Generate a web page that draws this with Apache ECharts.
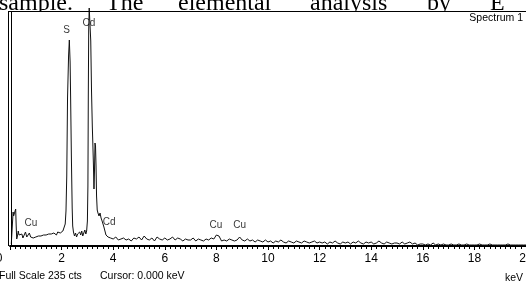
<!DOCTYPE html>
<html>
<head>
<meta charset="utf-8">
<script src="https://cdn.jsdelivr.net/npm/echarts@6/dist/echarts.min.js"></script>
<style>
html,body{margin:0;padding:0;background:#fff;}
#c{width:526px;height:284px;}
</style>
</head>
<body>
<div id="c"></div>
<script>
// Spectrum: [energy keV, counts] around the low-energy, S and Cd peaks
const peakSpectrum = [
  [0.05,2],[0.10,4],[0.12,34],[0.14,30],[0.17,32],[0.20,31],[0.22,37],[0.24,20],[0.26,7],[0.29,10],
  [0.32,15],[0.35,11],[0.38,13],[0.42,9],[0.46,12],[0.50,8],[0.55,11],[0.60,14],[0.65,9],[0.70,10],
  [0.75,13],[0.80,9],[0.85,11],[0.90,8],[0.95,10],[1.00,9],[1.05,8],[1.10,10],[1.15,9],[1.20,10],
  [1.25,9],[1.30,11],[1.35,10],[1.40,11],[1.45,10],[1.50,12],[1.55,11],[1.60,12],[1.65,11],[1.70,13],
  [1.75,12],[1.80,11],[1.85,14],[1.90,12],[1.95,13],[2.00,12],[2.05,15],[2.10,16],[2.14,22],
  [2.17,35],[2.20,70],[2.23,148],[2.27,190],[2.30,206],[2.33,184],[2.35,148],[2.38,88],[2.41,38],[2.43,20],
  [2.46,14],[2.50,10],[2.54,13],[2.58,9],[2.62,12],[2.66,10],[2.70,14],[2.74,11],[2.78,15],[2.82,10],
  [2.86,12],[2.90,16],[2.94,12],[2.97,15],
  [3.00,25],[3.02,60],[3.035,150],[3.05,215],[3.07,238],[3.10,236],[3.13,205],[3.16,155],[3.19,120],[3.21,103],
  [3.235,80],[3.255,57],[3.275,75],[3.295,103],[3.315,100],[3.335,80],[3.355,50],[3.38,36],[3.41,33],[3.45,30],
  [3.49,33],[3.53,28],[3.57,25],[3.60,27],[3.64,19],[3.68,15],[3.72,11],[3.76,13],[3.80,9],[3.85,11]
];
// Background channels from 3.9 keV onward, 0.1 keV apart
const tailStartKeV = 3.9;
const tailStepKeV = 0.1;
const tailCounts = [
  8,
  7,9,6,7,8,6,7,5,8,7,
  9,6,10,7,6,8,5,9,7,6,
  8,6,7,9,6,8,7,5,7,6,
  6,8,5,7,6,5,7,6,8,7,
  11,10,5,6,5,7,6,5,6,9,
  6,5,7,5,6,4,6,5,4,6,
  4,5,3,5,4,6,4,3,5,4,
  3,5,4,3,5,4,3,4,5,3,
  4,3,4,2,4,3,5,3,2,4,
  3,4,2,4,3,5,3,2,4,3,
  4,2,3,5,3,2,4,3,2,3,
  3,2,4,2,3,4,2,3,1,2,
  2,1,2,1,3,1,2,1,2,1,
  1,2,1,1,2,1,1,2,1,1,
  1,1,2,1,1,1,2,1,1,1,
  1,1,1,2,1,1,1,1,1,1,
  1
];
// Element labels
const elementNames = ['Cu','S','Cd','Cd','Cu','Cu'];
const elementKeV   = [0.81, 2.19, 3.06, 3.84, 7.98, 8.90];
const elementCts   = [23, 216, 223, 24, 21, 21];
// Axis
const xMin = 0, xMax = 20, xInterval = 2;
const fullScale = 235;

const spectrum = peakSpectrum.concat(
  tailCounts.map((c, i) => [+(tailStartKeV + i * tailStepKeV).toFixed(2), c])
);
const labelData = elementNames.map((n, i) => ({ name: n, value: [elementKeV[i], elementCts[i]] }));

const sans = '"Liberation Sans", Arial, sans-serif';
const serif = '"Liberation Serif", "Times New Roman", serif';

const chart = echarts.init(document.getElementById('c'), null, { renderer: 'canvas' });
const headWords = [['sample.', -1], ['The', 106], ['elemental', 178], ['analysis', 310], ['by', 427], ['E', 490]];
const graphics = headWords.map(w => ({
  type: 'text', x: w[1], y: 3.5, z: 0, style: { text: w[0], font: '24px ' + serif, fill: '#000', align: 'left', verticalAlign: 'middle' }
})).concat([
  { type: 'rect', z: 1, shape: { x: 0, y: 11, width: 526, height: 273 }, style: { fill: '#fff' } },
  { type: 'line', z: 10, shape: { x1: 8, y1: 11.5, x2: 526, y2: 11.5 }, style: { stroke: '#000', lineWidth: 1 } },
  { type: 'line', z: 10, shape: { x1: 8.5, y1: 11, x2: 8.5, y2: 246 }, style: { stroke: '#000', lineWidth: 1 } },
  { type: 'line', z: 10, shape: { x1: 11.5, y1: 11, x2: 11.5, y2: 246 }, style: { stroke: '#000', lineWidth: 1 } },
  { type: 'text', z: 10, x: 523, y: 18, style: { text: 'Spectrum 1', font: '10.5px ' + sans, fill: '#000', align: 'right', verticalAlign: 'middle' } },
  { type: 'text', z: 10, x: -1, y: 276.5, style: { text: 'Full Scale 235 cts', font: '10.5px ' + sans, fill: '#000', align: 'left', verticalAlign: 'middle' } },
  { type: 'text', z: 10, x: 100, y: 276.5, style: { text: 'Cursor: 0.000 keV', font: '10.5px ' + sans, fill: '#000', align: 'left', verticalAlign: 'middle' } },
  { type: 'text', z: 10, x: 523, y: 278, style: { text: 'keV', font: '10.5px ' + sans, fill: '#000', align: 'right', verticalAlign: 'middle' } }
]);

chart.setOption({
  animation: false,
  backgroundColor: '#fff',
  grid: { left: 10, right: 0, top: 11, bottom: 38, containLabel: false, outerBoundsMode: 'none' },
  xAxis: {
    type: 'value', min: xMin, max: xMax, interval: xInterval, z: 5,
    axisLine: { show: true, lineStyle: { color: '#000', width: 2 } },
    axisTick: { show: true, length: 4, lineStyle: { color: '#000', width: 1 } },
    minorTick: { show: true, splitNumber: 10, length: 3, lineStyle: { color: '#000', width: 1 } },
    splitLine: { show: false },
    axisLabel: {
      color: '#000', fontSize: 12, fontFamily: sans, margin: 7,
      showMinLabel: true, showMaxLabel: true, hideOverlap: false,
      formatter: v => v === 0 ? '{z|0}' : String(v),
      rich: { z: { fontSize: 12, fontFamily: sans, color: '#000', padding: [0, 22, 0, 0] } }
    }
  },
  yAxis: { type: 'value', min: 0, max: fullScale, show: false },
  series: [
    {
      type: 'line', data: spectrum, showSymbol: false, clip: false, z: 5,
      lineStyle: { color: '#111', width: 1 }, silent: true
    },
    {
      type: 'scatter', data: labelData, symbolSize: 1, z: 6,
      itemStyle: { color: 'rgba(0,0,0,0)' },
      label: { show: true, position: 'inside', formatter: p => p.name, color: '#000', fontSize: 10, fontFamily: sans }
    }
  ],
  graphic: graphics
});
</script>
</body>
</html>
